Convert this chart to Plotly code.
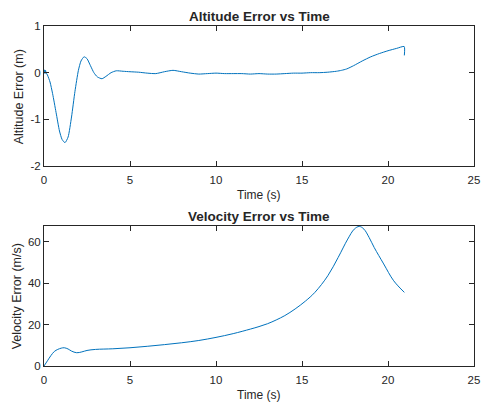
import plotly.graph_objects as go
from plotly.subplots import make_subplots

# Altitude error data
alt_t = [0.0, 0.03, 0.06, 0.09, 0.12, 0.2, 0.35, 0.5, 0.7, 0.9, 1.05, 1.22, 1.4, 1.6, 1.8, 2.0, 2.15, 2.33,
         2.5, 2.7, 2.9, 3.1, 3.37, 3.6, 3.9, 4.2, 4.6, 5.0, 5.5, 6.0, 6.5, 7.0, 7.5, 8.0, 8.5, 9.0, 9.5,
         10.0, 10.5, 11.0, 11.5, 12.0, 12.5, 13.0, 13.5, 14.0, 14.5, 15.0, 15.5, 16.0, 16.5, 17.0, 17.3,
         17.6, 18.0, 18.5, 19.0, 19.5, 20.0, 20.5, 20.94, 20.95]
alt_e = [0.0, 0.06, -0.02, 0.05, 0.0, -0.05, -0.2, -0.45, -0.85, -1.25, -1.43, -1.5, -1.38, -0.95, -0.4, 0.05, 0.25, 0.34,
         0.3, 0.15, 0.0, -0.09, -0.13, -0.08, 0.0, 0.04, 0.03, 0.02, 0.01, -0.01, -0.02, 0.02, 0.05, 0.02, -0.01, -0.03, -0.02,
         -0.01, -0.02, -0.02, -0.02, -0.03, -0.02, -0.03, -0.03, -0.02, -0.01, -0.01, 0.0, 0.0, 0.01, 0.03, 0.05,
         0.08, 0.15, 0.25, 0.34, 0.41, 0.47, 0.52, 0.56, 0.37]

# Velocity error data
vel_t = [0.0, 0.2, 0.4, 0.6, 0.8, 1.0, 1.18, 1.4, 1.6, 1.9, 2.2, 2.5, 3.0, 4.0, 5.0, 6.0, 7.0, 8.0, 9.0,
         10.0, 11.0, 12.0, 12.5, 13.0, 13.5, 14.0, 14.6, 15.2, 15.75, 16.5, 17.1, 17.66, 18.04, 18.33, 18.6, 18.9, 19.2,
         19.75, 20.33, 20.95]
vel_e = [0.0, 2.5, 5.0, 7.0, 8.0, 8.6, 8.8, 8.2, 7.2, 6.4, 6.8, 7.5, 8.0, 8.3, 8.8, 9.5, 10.3, 11.2, 12.3,
         13.8, 15.6, 17.8, 19.0, 20.4, 22.2, 24.3, 27.5, 31.3, 35.5, 43.5, 52.3, 61.2, 66.0, 67.3, 66.0, 62.0, 57.1,
         49.2, 41.1, 35.5]

x_ticks = [0, 5, 10, 15, 20, 25]
alt_ticks = [-2, -1, 0, 1]
vel_ticks = [0, 20, 40, 60]

TXT = "#262626"
LINE = "#0072BD"
FONT = "Liberation Sans, Arial, sans-serif"

fig = make_subplots(rows=2, cols=1)
fig.add_trace(go.Scatter(x=alt_t, y=alt_e, mode="lines", line=dict(color=LINE, width=1, shape="spline", smoothing=0.6),
                         showlegend=False), row=1, col=1)
fig.add_trace(go.Scatter(x=vel_t, y=vel_e, mode="lines", line=dict(color=LINE, width=1, shape="spline", smoothing=1.0),
                         showlegend=False), row=2, col=1)

W, H = 489, 402
ml, mr, mt, mb = 44, 9, 26, 36
ph = H - mt - mb


def py(pix):
    return 1 - (pix - mt) / ph


def px(pix):
    return (pix - ml) / (W - ml - mr)


axis_common = dict(showline=True, linecolor=TXT, linewidth=1, mirror="ticks", ticks="inside", ticklen=5,
                   tickcolor=TXT, showgrid=False, zeroline=False, tickfont=dict(family=FONT, size=11.5, color=TXT))

fig.update_xaxes(range=[0, 25], tickvals=x_ticks, ticktext=[str(v) for v in x_ticks], ticklabelstandoff=3, **axis_common)
fig.update_yaxes(range=[-2, 1], tickvals=alt_ticks, ticktext=[str(v) for v in alt_ticks], row=1, col=1, **axis_common)
fig.update_yaxes(range=[0, 67.5], tickvals=vel_ticks, ticktext=[str(v) for v in vel_ticks], row=2, col=1, **axis_common)

fig.update_layout(
    width=W, height=H, margin=dict(l=ml, r=mr, t=mt, b=mb),
    paper_bgcolor="white", plot_bgcolor="white",
    xaxis=dict(domain=[0, 1]), yaxis=dict(domain=[py(166), 1]),
    xaxis2=dict(domain=[0, 1]), yaxis2=dict(domain=[0, py(226)]),
    font=dict(family=FONT, color=TXT),
)

ann = [
    dict(text="<b>Altitude Error vs Time</b>", x=px(262), y=py(16), size=13.5),
    dict(text="<b>Velocity Error vs Time</b>", x=px(262), y=py(216), size=13.5),
    dict(text="Time (s)", x=px(262), y=py(195), size=12),
    dict(text="Time (s)", x=px(262), y=py(395), size=12),
]
for a in ann:
    fig.add_annotation(text=a["text"], x=a["x"], y=a["y"], xref="paper", yref="paper", showarrow=False,
                       xanchor="center", yanchor="middle", font=dict(family=FONT, size=a["size"], color=TXT))

fig.add_annotation(text="Altitude Error (m)", x=px(19), y=py(97), xref="paper", yref="paper", showarrow=False,
                   textangle=-90, xanchor="center", yanchor="middle", font=dict(family=FONT, size=12.5, color=TXT))
fig.add_annotation(text="Velocity Error (m/s)", x=px(17), y=py(296), xref="paper", yref="paper", showarrow=False,
                   textangle=-90, xanchor="center", yanchor="middle", font=dict(family=FONT, size=12.5, color=TXT))

fig.write_html("out.html")
